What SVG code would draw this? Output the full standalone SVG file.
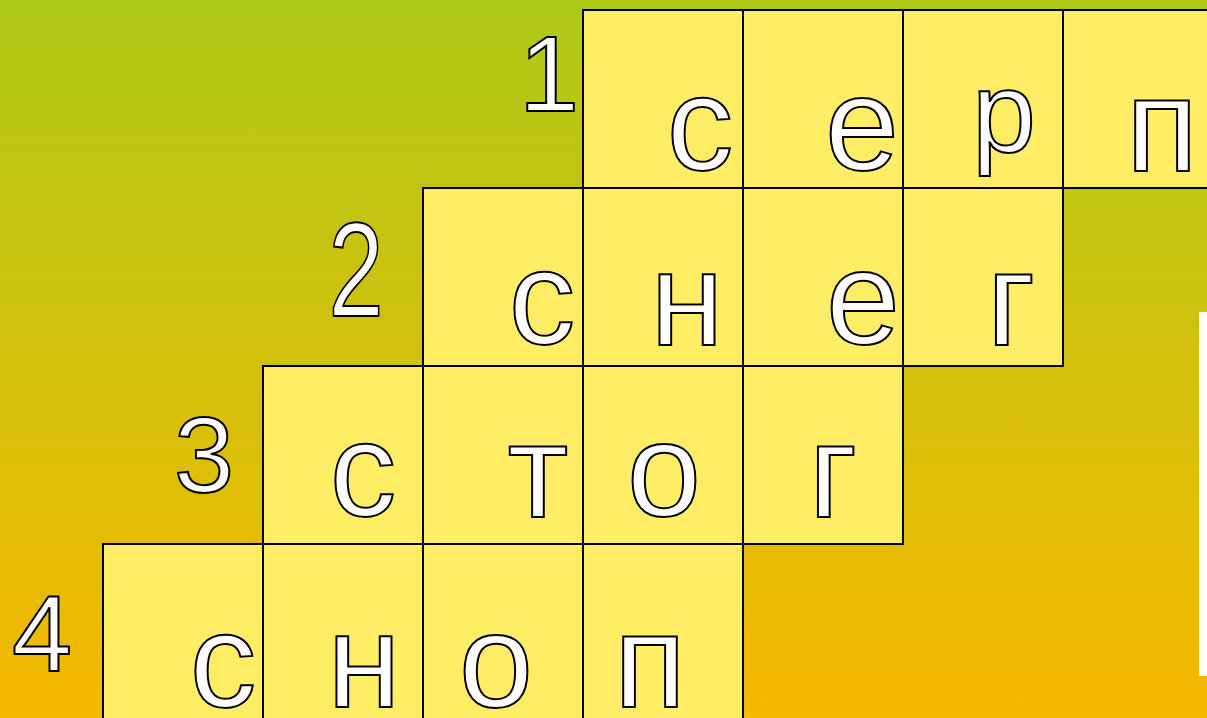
<svg xmlns="http://www.w3.org/2000/svg" width="1207" height="718" viewBox="0 0 1207 718">
<defs>
<linearGradient id="bg" x1="0" y1="0" x2="0" y2="1">
<stop offset="0" stop-color="#AEC918"/>
<stop offset="1" stop-color="#F6B800"/>
</linearGradient>
</defs>
<style>
.cell{fill:#FFED66;stroke:#000;stroke-width:2}
.ltr{font-family:"Liberation Sans",Arial,sans-serif;font-size:133px;fill:#fff;stroke:#000;stroke-width:2;text-anchor:middle}
.num{font-family:"Liberation Sans",Arial,sans-serif;font-size:108px;fill:#fff;stroke:#000;stroke-width:2;text-anchor:middle}
</style>
<rect x="0" y="0" width="1207" height="718" fill="url(#bg)"/>
<rect x="1199" y="312" width="8" height="364" fill="#fff"/>

<g id="row1">
<rect class="cell" x="583" y="10" width="160" height="178"/>
<rect class="cell" x="743" y="10" width="160" height="178"/>
<rect class="cell" x="903" y="10" width="160" height="178"/>
<rect class="cell" x="1063" y="10" width="160" height="178"/>
<text class="ltr" x="700" y="170">с</text>
<text class="ltr" x="862" y="170">е</text>
<text class="ltr" x="1004" y="152" style="font-size:115px">р</text>
<text class="ltr" x="1162" y="171">п</text>
</g>
<g id="row2">
<rect class="cell" x="423" y="188" width="160" height="178"/>
<rect class="cell" x="583" y="188" width="160" height="178"/>
<rect class="cell" x="743" y="188" width="160" height="178"/>
<rect class="cell" x="903" y="188" width="160" height="178"/>
<text class="ltr" x="542" y="344">с</text>
<text class="ltr" x="687" y="345">н</text>
<text class="ltr" x="863" y="344">е</text>
<text class="ltr" x="1011" y="345">г</text>
</g>
<g id="row3">
<rect class="cell" x="263" y="366" width="160" height="178"/>
<rect class="cell" x="423" y="366" width="160" height="178"/>
<rect class="cell" x="583" y="366" width="160" height="178"/>
<rect class="cell" x="743" y="366" width="160" height="178"/>
<text class="ltr" x="363" y="516">с</text>
<text class="ltr" x="538" y="517">т</text>
<text class="ltr" x="664" y="516">о</text>
<text class="ltr" x="833" y="517">г</text>
</g>
<g id="row4">
<rect class="cell" x="103" y="544" width="160" height="178"/>
<rect class="cell" x="263" y="544" width="160" height="178"/>
<rect class="cell" x="423" y="544" width="160" height="178"/>
<rect class="cell" x="583" y="544" width="160" height="178"/>
<text class="ltr" x="223" y="707">с</text>
<text class="ltr" x="364" y="707">н</text>
<text class="ltr" x="496" y="707">о</text>
<text class="ltr" x="650" y="707">п</text>
</g>
<g id="numbers">
<text class="num" x="549" y="111">1</text>
<text class="num" transform="translate(356,316) scale(0.74,1)" style="font-size:134px">2</text>
<text class="num" x="204" y="492">3</text>
<text class="num" x="42" y="671">4</text>
</g>
<g id="connectors"/>
</svg>
